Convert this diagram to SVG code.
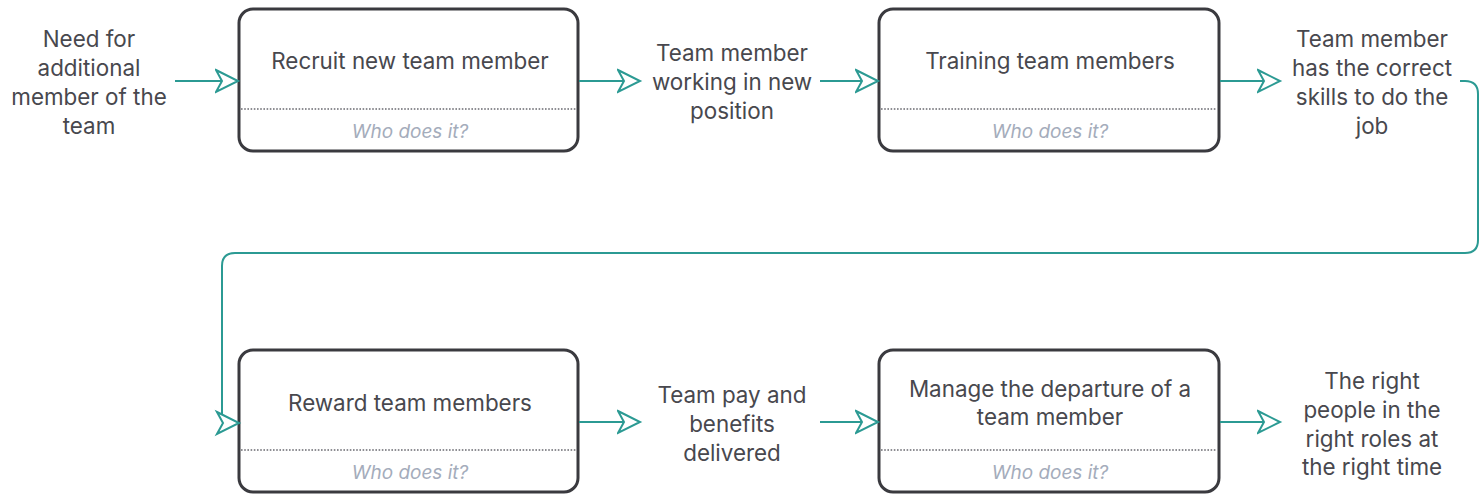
<svg xmlns="http://www.w3.org/2000/svg" width="1483" height="497" viewBox="0 0 1483 497">
  <style>
    .box { fill: #ffffff; stroke: #3a3a3f; stroke-width: 3; }
    .sep { stroke: #6a6a70; stroke-width: 1.4; stroke-dasharray: 1.6 1.6; }
    .title { font-family: Inter, "Liberation Sans", sans-serif; font-size: 22.4px; fill: #48484e; text-anchor: middle; dominant-baseline: central; }
    .who { font-family: Inter, "Liberation Sans", sans-serif; font-size: 19px; font-style: italic; fill: #a4acbb; text-anchor: middle; dominant-baseline: central; }
    .lbl { font-family: Inter, "Liberation Sans", sans-serif; font-size: 22.4px; fill: #48484e; text-anchor: middle; dominant-baseline: central; }
    .wire { fill: none; stroke: #2b9a93; stroke-width: 2; }
    .head { fill: #ffffff; stroke: #2b9a93; stroke-width: 2; stroke-linejoin: miter; }
  </style>
  <defs>
    <marker id="arrow" markerUnits="userSpaceOnUse" markerWidth="26" markerHeight="26" refX="23" refY="12" orient="auto" viewBox="0 0 26 24">
      <path class="head" d="M1,1 L23,12 L1,23 L7,12 Z"/>
    </marker>
  </defs>
  <rect width="1483" height="497" fill="#ffffff"/>

  <!-- free-standing labels -->
  <g id="need">
    <text class="lbl" x="89" y="38">Need for</text>
    <text class="lbl" x="89" y="67">additional</text>
    <text class="lbl" x="89" y="96">member of the</text>
    <text class="lbl" x="89" y="125">team</text>
  </g>
  <g id="working">
    <text class="lbl" x="732" y="52">Team member</text>
    <text class="lbl" x="732" y="81">working in new</text>
    <text class="lbl" x="732" y="110">position</text>
  </g>
  <g id="skills">
    <text class="lbl" x="1372" y="38">Team member</text>
    <text class="lbl" x="1372" y="67">has the correct</text>
    <text class="lbl" x="1372" y="96">skills to do the</text>
    <text class="lbl" x="1372" y="125">job</text>
  </g>
  <g id="pay">
    <text class="lbl" x="732" y="394">Team pay and</text>
    <text class="lbl" x="732" y="423">benefits</text>
    <text class="lbl" x="732" y="452">delivered</text>
  </g>
  <g id="outcome">
    <text class="lbl" x="1372" y="380">The right</text>
    <text class="lbl" x="1372" y="409">people in the</text>
    <text class="lbl" x="1372" y="438">right roles at</text>
    <text class="lbl" x="1372" y="466">the right time</text>
  </g>

  <!-- activity boxes -->
  <g id="recruit">
    <rect class="box" x="239" y="9" width="339" height="142" rx="14"/>
    <line class="sep" x1="241" y1="109" x2="576" y2="109"/>
    <text class="title" x="410" y="60">Recruit new team member</text>
    <text class="who" x="410" y="131">Who does it?</text>
  </g>
  <g id="training">
    <rect class="box" x="879" y="9" width="340" height="142" rx="14"/>
    <line class="sep" x1="881" y1="109" x2="1217" y2="109"/>
    <text class="title" x="1050" y="60">Training team members</text>
    <text class="who" x="1050" y="131">Who does it?</text>
  </g>
  <g id="reward">
    <rect class="box" x="239" y="350" width="339" height="142" rx="14"/>
    <line class="sep" x1="241" y1="450" x2="576" y2="450"/>
    <text class="title" x="410" y="402">Reward team members</text>
    <text class="who" x="410" y="472">Who does it?</text>
  </g>
  <g id="departure">
    <rect class="box" x="879" y="350" width="340" height="142" rx="14"/>
    <line class="sep" x1="881" y1="450" x2="1217" y2="450"/>
    <text class="title" x="1050" y="388">Manage the departure of a</text>
    <text class="title" x="1050" y="416">team member</text>
    <text class="who" x="1050" y="472">Who does it?</text>
  </g>

  <!-- connectors -->
  <g id="connectors">
    <path class="wire" d="M175,81 H238" marker-end="url(#arrow)"/>
    <path class="wire" d="M579,81 H640" marker-end="url(#arrow)"/>
    <path class="wire" d="M820,81 H878" marker-end="url(#arrow)"/>
    <path class="wire" d="M1220,81 H1280" marker-end="url(#arrow)"/>
    <path class="wire" d="M1460,81 H1465 Q1478,81 1478,94 V240 Q1478,253 1465,253 H235 Q222,253 222,266 V415"/>
    <path class="head" d="M217,412 L239,423 L217,434 L223,423 Z"/>
    <path class="wire" d="M579,422 H640" marker-end="url(#arrow)"/>
    <path class="wire" d="M820,422 H878" marker-end="url(#arrow)"/>
    <path class="wire" d="M1220,422 H1280" marker-end="url(#arrow)"/>
  </g>
</svg>
